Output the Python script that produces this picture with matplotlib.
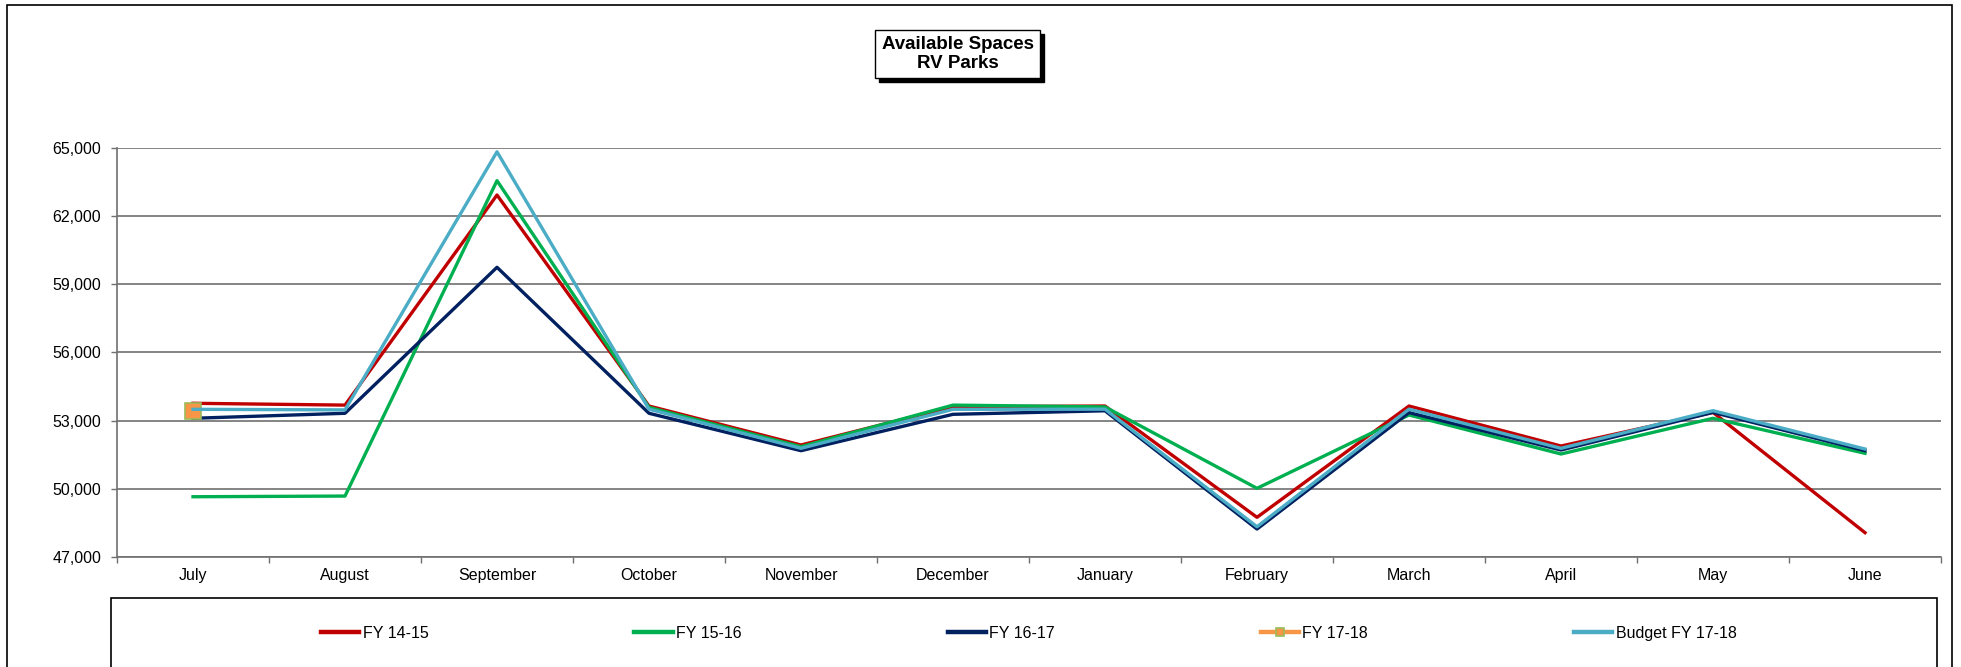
import matplotlib
matplotlib.use('Agg')  # backend senza interfaccia grafica
import matplotlib.pyplot as plt
from matplotlib.patches import Rectangle
from matplotlib.ticker import FuncFormatter
import numpy as np

mesi = ['July', 'August', 'September', 'October', 'November', 'December',
        'January', 'February', 'March', 'April', 'May', 'June']
fy_14_15 = [53760, 53680, 62920, 53640, 51925, 53610, 53640, 48745, 53640, 51880, 53360, 48070]
fy_15_16 = [49650, 49680, 63550, 53580, 51850, 53680, 53600, 50020, 53245, 51530, 53100, 51560]
fy_16_17 = [53100, 53320, 59740, 53320, 51675, 53275, 53430, 48230, 53350, 51705, 53360, 51675]
fy_17_18 = [53420]
budget_17_18 = [53495, 53470, 64820, 53500, 51780, 53495, 53500, 48330, 53500, 51780, 53435, 51750]

plt.rcParams['font.family'] = ['Liberation Sans', 'DejaVu Sans']

W, H = 1961, 667
fig = plt.figure(figsize=(W / 100, H / 100), dpi=100)
fig.patch.set_facecolor('white')

# Posizione dell'area del grafico (in pixel convertiti in frazioni)
left, right, top, bottom = 117, 1941, 147.7, 557
ax = fig.add_axes([left / W, 1 - bottom / H, (right - left) / W, (bottom - top) / H])

x = np.arange(len(mesi))
lw = 2.4
ax.plot(x, fy_14_15, color='#C00000', lw=lw, label='FY 14-15', zorder=3)
ax.plot(x, fy_15_16, color='#00B050', lw=lw, label='FY 15-16', zorder=3)
ax.plot(x, fy_16_17, color='#002060', lw=lw, label='FY 16-17', zorder=3)
ax.plot(x[:len(fy_17_18)], fy_17_18, color='#F79646', lw=lw, marker='s', markersize=11,
        markerfacecolor='#F79646', markeredgecolor='#9BBB59', markeredgewidth=1.2,
        label='FY 17-18', zorder=3)
ax.plot(x, budget_17_18, color='#4BACC6', lw=lw, label='Budget FY 17-18', zorder=4)

# Assi e griglia
ax.set_ylim(47000, 65000)
ax.set_yticks(np.arange(47000, 65001, 3000))
ax.yaxis.set_major_formatter(FuncFormatter(lambda v, p: f'{int(v):,}'))
ax.set_xlim(-0.5, 11.5)
ax.set_xticks(np.arange(-0.5, 12, 1))
ax.set_xticklabels([])
ax.set_xticks(x, minor=True)
ax.set_xticklabels(mesi, minor=True)
ax.tick_params(axis='x', which='minor', length=0, pad=8, labelsize=11.5)
ax.tick_params(axis='x', which='major', length=4.5, width=1, color='#707070')
ax.tick_params(axis='y', length=4.5, width=1, color='#707070', pad=7, labelsize=11.5)
ax.grid(axis='y', color='#707070', lw=1.2, zorder=1)
ax.set_axisbelow(True)
for s in ['top', 'right']:
    ax.spines[s].set_visible(False)
for s in ['left', 'bottom']:
    ax.spines[s].set_color('#707070')
    ax.spines[s].set_linewidth(1.2)

# Bordo esterno del grafico
fig.patches.append(Rectangle((6.5 / W, -0.05), (1952 - 6.5) / W, 1.05 - 5 / H,
                             transform=fig.transFigure, fill=False, ec='black', lw=1.2))

# Titolo in un riquadro con ombra
bx0, bx1, by0, by1 = 875, 1040, 30, 78
fig.patches.append(Rectangle(((bx0 + 4) / W, 1 - (by1 + 4) / H), (bx1 - bx0) / W, (by1 - by0) / H,
                             transform=fig.transFigure, fc='black', ec='black', lw=1))
fig.patches.append(Rectangle((bx0 / W, 1 - by1 / H), (bx1 - bx0) / W, (by1 - by0) / H,
                             transform=fig.transFigure, fc='white', ec='black', lw=1))
fig.text((bx0 + bx1) / 2 / W, 1 - (by0 + by1) / 2 / H, 'Available Spaces\nRV Parks',
         ha='center', va='center', fontsize=13.5, fontweight='bold', linespacing=1.15)

# Riquadro della legenda
fig.patches.append(Rectangle((110.7 / W, -0.05), (1936.7 - 110.7) / W, 0.05 + 1 - 598.3 / H,
                             transform=fig.transFigure, fill=False, ec='black', lw=1.2))
leg = fig.legend(loc='center left', bbox_to_anchor=(313 / W, 1 - 633.3 / H), ncol=5,
                 frameon=False, fontsize=11.5, handlelength=2.4, handletextpad=0.2,
                 columnspacing=12.9, borderpad=0, markerscale=0.55)
for h in leg.legend_handles:
    h.set_linewidth(3.2)  # linee della legenda un po' piu' spesse

plt.savefig('out.png', dpi=100)
